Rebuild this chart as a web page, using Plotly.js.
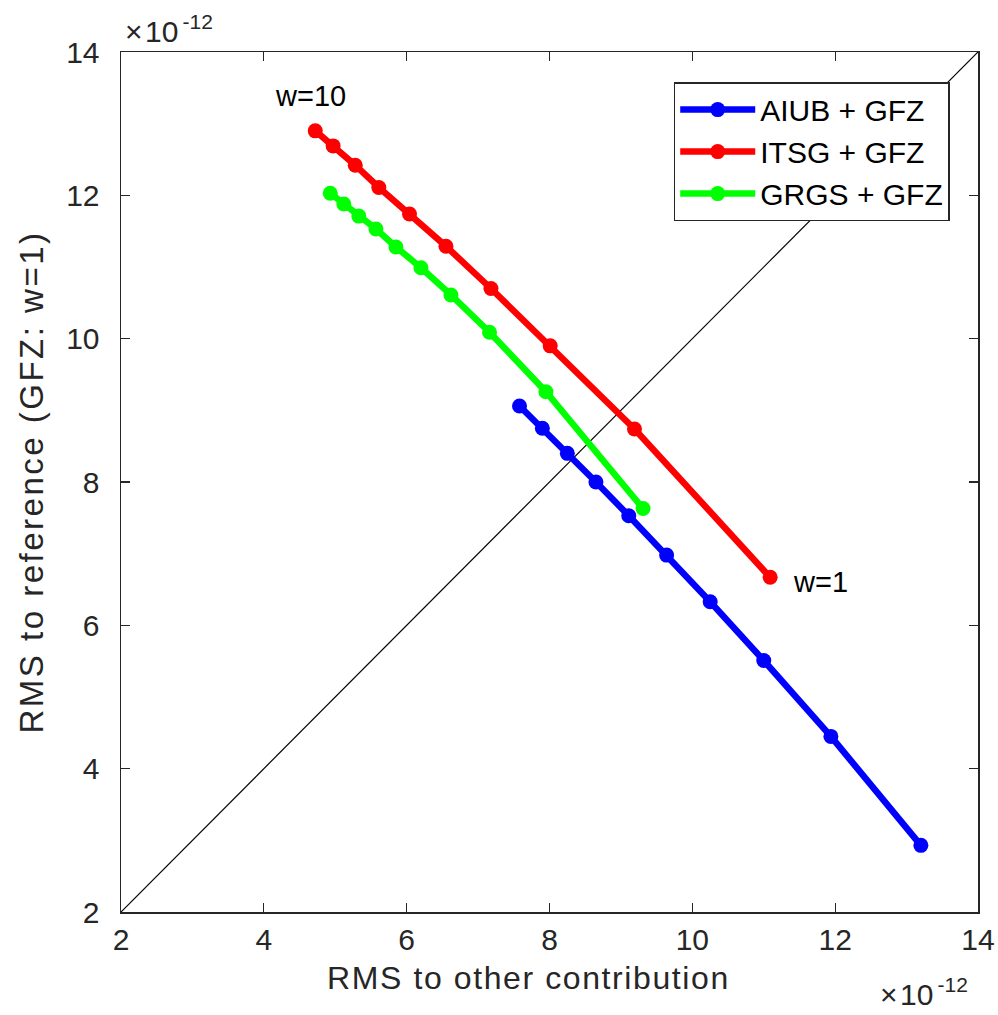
<!DOCTYPE html>
<html>
<head>
<meta charset="utf-8">
<script src="https://cdn.plot.ly/plotly-3.0.1.min.js"></script>
<style>
html,body{margin:0;padding:0;background:#fff;}
#chart{width:998px;height:1015px;}
#chart .ytitle{letter-spacing:2.5px;}
#chart .annotation-text.xlabel{letter-spacing:1.6px;}
</style>
</head>
<body>
<div id="chart"></div>
<script>
// Values in units of 1e-12
var seriesNames = ["AIUB + GFZ", "ITSG + GFZ", "GRGS + GFZ"];
var aiubX = [7.58, 7.90, 8.25, 8.65, 9.11, 9.64, 10.25, 11.00, 11.94, 13.20];
var aiubY = [9.06, 8.75, 8.40, 8.00, 7.53, 6.98, 6.33, 5.51, 4.45, 2.93];
var itsgX = [4.72, 4.97, 5.28, 5.61, 6.04, 6.55, 7.18, 8.01, 9.19, 11.09];
var itsgY = [12.90, 12.69, 12.42, 12.11, 11.74, 11.29, 10.70, 9.90, 8.74, 6.67];
var grgsX = [4.93, 5.12, 5.33, 5.57, 5.85, 6.20, 6.62, 7.16, 7.95, 9.31];
var grgsY = [12.03, 11.88, 11.71, 11.53, 11.28, 10.99, 10.61, 10.09, 9.26, 7.63];
var diagX = [2, 14];
var diagY = [2, 14];
var tickVals = [2, 4, 6, 8, 10, 12, 14];
var xTitle = "RMS to other contribution";
var yTitle = "RMS to reference (GFZ: w=1)";
var scaleText = "×&#8202;10<sup>&#8201;-12</sup>";

var font = "Liberation Sans, Arial, Helvetica, sans-serif";
function series(x, y, name, color) {
  return {x: x, y: y, name: name, type: "scatter", mode: "lines+markers",
    line: {color: color, width: 6.5}, marker: {color: color, size: 15}};
}
var data = [
  {x: diagX, y: diagY, type: "scatter", mode: "lines", line: {color: "#000", width: 1.2},
   showlegend: false, hoverinfo: "skip"},
  series(aiubX, aiubY, seriesNames[0], "#0000ff"),
  series(itsgX, itsgY, seriesNames[1], "#ff0000"),
  series(grgsX, grgsY, seriesNames[2], "#00ff00")
];
var axisCommon = {
  range: [2, 14], tickvals: tickVals, ticks: "inside", ticklen: 9, tickwidth: 1.2,
  tickcolor: "#262626", showline: true, linecolor: "#262626", linewidth: 1.5,
  mirror: "ticks", showgrid: false, zeroline: false, automargin: false,
  tickfont: {family: font, size: 30, color: "#262626"}
};
var layout = {
  width: 998, height: 1015,
  margin: {l: 121, r: 20, t: 52, b: 103},
  paper_bgcolor: "#fff", plot_bgcolor: "#fff",
  font: {family: font, color: "#262626"},
  xaxis: Object.assign({}, axisCommon, {}),
  yaxis: Object.assign({}, axisCommon, {
    ticklabelstandoff: 14,
    title: {text: yTitle, font: {family: font, size: 33, color: "#262626"}, standoff: 12}
  }),
  legend: {
    x: 0.967, y: 0.965, xanchor: "right", yanchor: "top",
    bgcolor: "#fff", bordercolor: "#262626", borderwidth: 1.5,
    font: {family: font, size: 30, color: "#000"}, tracegroupgap: 0,
    itemwidth: 75
  },
  annotations: [
    {x: 4.66, y: 13.39, xref: "x", yref: "y", text: "w=10", showarrow: false,
     font: {family: font, size: 29, color: "#000"}, xanchor: "center", yanchor: "middle"},
    {x: 11.38, y: 6.6, xref: "x", yref: "y", text: "w=1", showarrow: false,
     font: {family: font, size: 29, color: "#000"}, xanchor: "left", yanchor: "middle"},
    {x: 0, y: 1, xref: "paper", yref: "paper", xshift: 2, yshift: 2, text: scaleText, showarrow: false,
     font: {family: font, size: 30, color: "#262626"}, xanchor: "left", yanchor: "bottom"},
    {x: 1, y: 0, xref: "paper", yref: "paper", xshift: -8, yshift: -59, text: scaleText, showarrow: false,
     font: {family: font, size: 30, color: "#262626"}, xanchor: "right", yanchor: "top"},
    {x: 0.475, y: 0, xref: "paper", yref: "paper", yshift: -66, text: xTitle, showarrow: false,
     font: {family: font, size: 32, color: "#262626"}, xanchor: "center", yanchor: "middle"}
  ]
};
Plotly.newPlot("chart", data, layout, {displayModeBar: false, staticPlot: true}).then(function () {
  var anns = document.querySelectorAll("#chart .annotation-text");
  if (anns.length) anns[anns.length - 1].classList.add("xlabel");
});
</script>
</body>
</html>
